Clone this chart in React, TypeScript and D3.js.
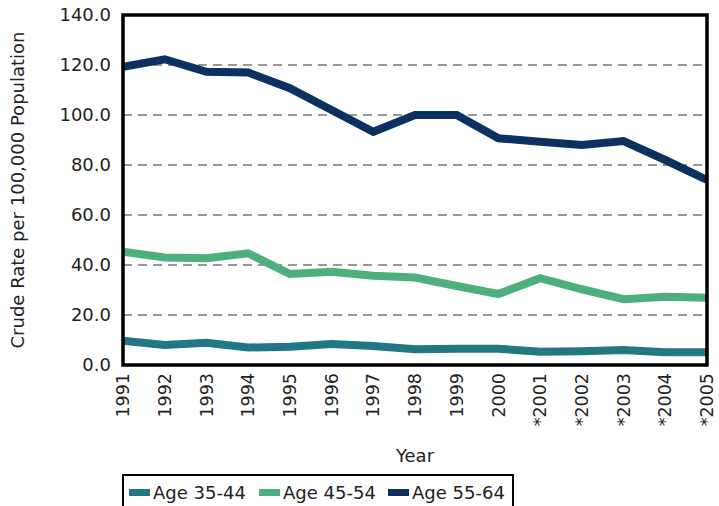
import React from "react";
import * as d3 from "d3";

const years = ["1991","1992","1993","1994","1995","1996","1997","1998","1999","2000","*2001","*2002","*2003","*2004","*2005"];
const age3544 = [9.7, 8.0, 8.9, 7.0, 7.3, 8.4, 7.6, 6.3, 6.5, 6.5, 5.3, 5.5, 6.0, 5.1, 5.1];
const age4554 = [45.3, 43.0, 42.7, 44.7, 36.4, 37.3, 35.7, 35.0, 31.6, 28.4, 34.7, 30.3, 26.3, 27.3, 26.9];
const age5564 = [119.3, 122.3, 117.3, 117.0, 110.7, 102.0, 93.3, 100.0, 100.0, 90.7, 89.3, 88.0, 89.6, 82.0, 74.0];
const yTicks = [0, 20, 40, 60, 80, 100, 120, 140];
const seriesNames = ["Age 35-44", "Age 45-54", "Age 55-64"];
const seriesColors = ["#237785", "#4caf7c", "#0b3160"];

const W = 719, H = 506;
const L = 123, R = 707, T = 15, B = 365;
const FONT = "'DejaVu Sans', sans-serif";

export default function App() {
  const x = d3.scalePoint<string>().domain(years).range([L, R]);
  const y = d3.scaleLinear().domain([0, 140]).range([B, T]);
  const line = d3.line<number>().x((_, i) => x(years[i])!).y(d => y(d));
  const series = [age3544, age4554, age5564];
  const legendX = [129, 259, 388];
  return (
    <svg width={W} height={H} style={{ position: "absolute", left: 0, top: 0 }} fontFamily={FONT}>
      <rect x={0} y={0} width={W} height={H} fill="#fff" />
      {yTicks.filter(t => t > 0 && t < 140).map(t => (
        <line key={t} x1={L} x2={R} y1={y(t)} y2={y(t)} stroke="#333" strokeWidth={1.2} strokeDasharray="9,6" />
      ))}
      {yTicks.map(t => (
        <text key={"l" + t} x={L - 12} y={y(t)} dy="0.35em" textAnchor="end" fontSize={18} fill="#222">{t.toFixed(1)}</text>
      ))}
      <defs>
        <clipPath id="clip"><rect x={L} y={T - 10} width={R - L} height={B - T + 10} /></clipPath>
      </defs>
      <g clipPath="url(#clip)">
        {series.map((s, i) => (
          <path key={i} d={line(s)!} fill="none" stroke={seriesColors[i]} strokeWidth={8} strokeLinejoin="miter" />
        ))}
      </g>
      <rect x={L} y={T} width={R - L} height={B - T} fill="none" stroke="#000" strokeWidth={3.5} />
      {years.map(yr => (
        <text key={yr} transform={`translate(${x(yr)},${B + 8}) rotate(-90)`} dy="0.35em" textAnchor="end" fontSize={17.5} fill="#222">{yr}</text>
      ))}
      <text x={(L + R) / 2} y={462} textAnchor="middle" fontSize={18} fill="#222">Year</text>
      <text transform={`translate(24,${(T + B) / 2}) rotate(-90)`} textAnchor="middle" fontSize={18} fill="#222">Crude Rate per 100,000 Population</text>
      <rect x={123} y={475} width={390} height={40} fill="#fff" stroke="#000" strokeWidth={2} />
      {seriesNames.map((n, i) => (
        <g key={n}>
          <rect x={legendX[i]} y={489} width={21} height={7} fill={seriesColors[i]} />
          <text x={legendX[i] + 24} y={499} fontSize={18} fill="#222">{n}</text>
        </g>
      ))}
    </svg>
  );
}
